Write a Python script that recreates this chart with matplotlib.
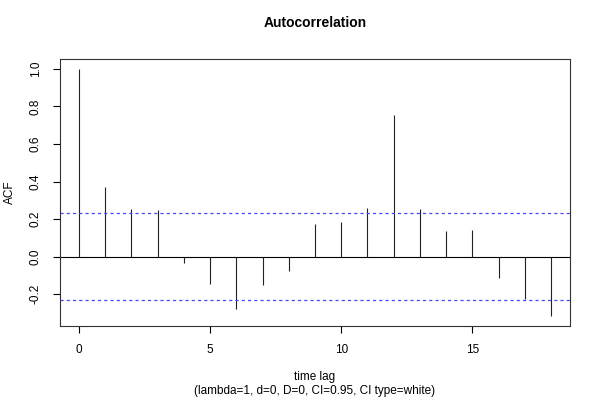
import matplotlib
matplotlib.use("Agg")
import matplotlib.pyplot as plt

plt.rcParams["font.family"] = ["Liberation Sans", "DejaVu Sans"]

lags = list(range(19))
acf = [1.0, 0.372, 0.252, 0.25, -0.036, -0.147, -0.278, -0.15, -0.078,
       0.176, 0.184, 0.26, 0.755, 0.255, 0.138, 0.142, -0.115, -0.227, -0.317]
ci = 0.23
x_ticks = [0, 5, 10, 15]
y_ticks = [-0.2, 0.0, 0.2, 0.4, 0.6, 0.8, 1.0]

fig = plt.figure(figsize=(6, 4), dpi=100)
ax = fig.add_axes([0.1, 0.185, 0.85, 0.6675])

ax.vlines(lags, 0, acf, color="#222222", linewidth=0.8)
ax.axhline(0, color="black", linewidth=0.8)
ax.axhline(ci, color="#4444ff", linestyle=(0, (2.5, 2.5)), linewidth=0.9)
ax.axhline(-ci, color="#4444ff", linestyle=(0, (2.5, 2.5)), linewidth=0.9)

ax.set_xlim(-0.72, 18.72)
ax.set_ylim(-0.37, 1.053)
ax.set_xticks(x_ticks)
ax.set_xticklabels([str(t) for t in x_ticks])
ax.set_yticks(y_ticks)
ax.set_yticklabels(["%.1f" % t for t in y_ticks], rotation=90, va="center")
ax.tick_params(direction="out", length=5, width=0.8, labelsize=8.5, pad=8)
for s in ax.spines.values():
    s.set_linewidth(0.8)
    s.set_color("#333333")

ax.set_title("Autocorrelation", fontsize=10, fontweight="bold", pad=23)
ax.set_ylabel("ACF", fontsize=8.5, labelpad=10)
ax.set_xlabel("time lag\n(lambda=1, d=0, D=0, CI=0.95, CI type=white)",
              fontsize=8.5, labelpad=11, linespacing=1.15)

fig.savefig("out.png", dpi=100)
